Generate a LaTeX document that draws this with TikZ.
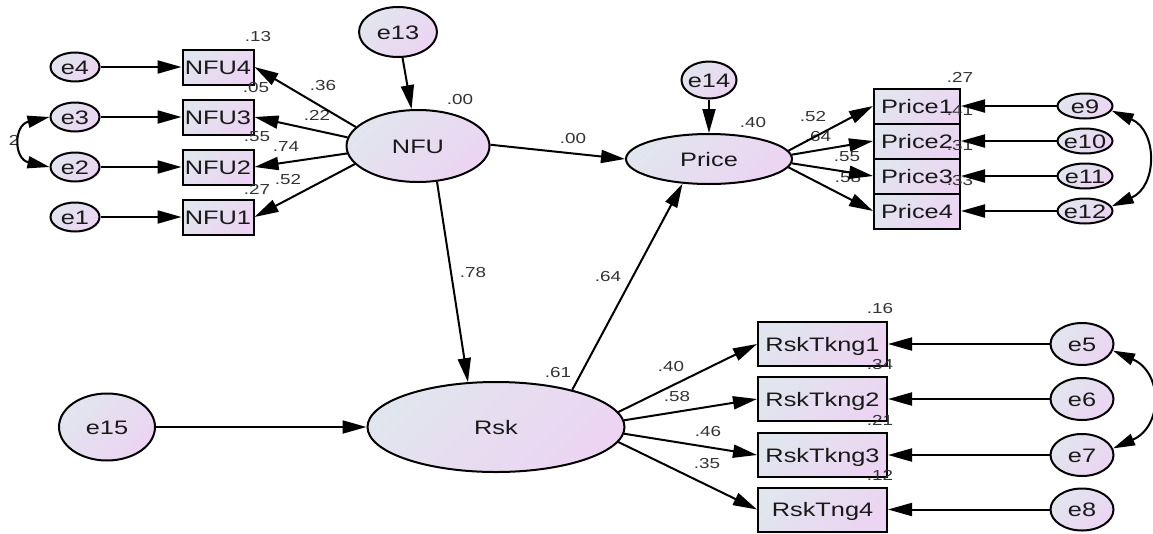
\documentclass[tikz,border=0pt]{standalone}
\usepackage{fontspec}
\newfontfamily\labfont[FakeStretch=1.3]{Liberation Sans}
\usetikzlibrary{shapes.geometric,arrows.meta}
\definecolor{gA}{HTML}{E1E5EE}
\definecolor{gB}{HTML}{ECD4F2}
\definecolor{numc}{HTML}{333333}
\newcommand{\zb}[1]{\makebox[0pt]{#1}}
\begin{document}
\begin{tikzpicture}[x=1pt,y=-1pt,
  base/.style={draw=black, line width=2pt, top color=gA, bottom color=gB, shading angle=45,
    inner sep=0pt, font=\labfont\fontsize{19.5}{20}\selectfont, text=black!90,
    text height=14pt, text depth=0pt},
  nbox/.style={base, rectangle, minimum width=71pt, minimum height=35pt},
  pbox/.style={base, rectangle, minimum width=86pt, minimum height=35pt},
  rbox/.style={base, rectangle, minimum width=129pt, minimum height=44pt},
  lat/.style={base, ellipse},
  esm/.style={base, ellipse, minimum width=49pt, minimum height=29pt},
  epr/.style={base, ellipse, minimum width=55pt, minimum height=25pt},
  erk/.style={base, ellipse, minimum width=63pt, minimum height=42pt},
  num/.style={inner sep=0pt, font=\labfont\fontsize{14.5}{15}\selectfont, text=numc},
  arr/.style={line width=2pt, -{Triangle[length=24pt,width=13pt]}},
  cov/.style={line width=2pt, {Triangle[length=22pt,width=12pt]}-{Triangle[length=22pt,width=12pt]}}
]
\useasboundingbox (0,0) rectangle (1153,533);

% ---- nodes ----
\node[esm] (e4) at (75,67) {\zb{e4}};
\node[esm] (e3) at (75,117) {\zb{e3}};
\node[esm] (e2) at (75,167) {\zb{e2}};
\node[esm] (e1) at (75,217) {\zb{e1}};
\node[nbox] (NFU4) at (218,67) {NFU4};
\node[nbox] (NFU3) at (218,117) {NFU3};
\node[nbox] (NFU2) at (218,167) {NFU2};
\node[nbox] (NFU1) at (218,217) {NFU1};
\node[lat, minimum width=78pt, minimum height=50pt] (e13) at (398,32) {\zb{e13}};
\node[lat, minimum width=143pt, minimum height=72pt] (NFU) at (418,146) {\zb{NFU}};
\node[lat, minimum width=55pt, minimum height=37pt] (e14) at (709,80) {\zb{e14}};
\node[lat, minimum width=166pt, minimum height=50pt] (Price) at (709,159) {\zb{Price}};
\node[pbox] (Price1) at (917,106) {Price1};
\node[pbox] (Price2) at (917,141) {Price2};
\node[pbox] (Price3) at (917,176) {Price3};
\node[pbox] (Price4) at (917,211) {Price4};
\node[epr] (e9) at (1085,106) {\zb{e9}};
\node[epr] (e10) at (1085,141) {\zb{e10}};
\node[epr] (e11) at (1085,176) {\zb{e11}};
\node[epr] (e12) at (1085,211) {\zb{e12}};
\node[lat, minimum width=96pt, minimum height=67pt] (e15) at (107,427) {\zb{e15}};
\node[lat, minimum width=257pt, minimum height=90pt] (Rsk) at (496,427) {\zb{Rsk}};
\node[rbox] (RskTkng1) at (822.5,344) {RskTkng1};
\node[rbox] (RskTkng2) at (822.5,399) {RskTkng2};
\node[rbox] (RskTkng3) at (822.5,455) {RskTkng3};
\node[rbox] (RskTng4) at (822.5,509.5) {RskTng4};
\node[erk] (e5) at (1082,344) {\zb{e5}};
\node[erk] (e6) at (1082,399) {\zb{e6}};
\node[erk] (e7) at (1082,455) {\zb{e7}};
\node[erk] (e8) at (1082,509.5) {\zb{e8}};

% ---- number labels ----
\node[num] (r13) at (258,37) {.13};
\node[num] (r05) at (256,88) {.05};
\node[num] (r55) at (257,137) {.55};
\node[num] (r27) at (257,189) {.27};
\node[num] (rnfu) at (460,100) {.00};
\node[num] (rpri) at (753,123) {.40};
\node[num] (rrsk) at (558,373) {.61};
\node[num] (rp1) at (960,77) {.27};
\node[num] (rp2) at (960,111) {.41};
\node[num] (rp3) at (960,146) {.31};
\node[num] (rp4) at (960,181) {.33};
\node[num] (rr1) at (880,309) {.16};
\node[num] (rr2) at (880,365) {.34};
\node[num] (rr3) at (880,420) {.21};
\node[num] (rr4) at (880,475) {.12};
\node[num] (w36) at (323,86) {.36};
\node[num] (w22) at (317,115) {.22};
\node[num] (w74) at (286,147) {.74};
\node[num] (w52) at (288,180) {.52};
\node[num] (w00) at (573,139) {.00};
\node[num] (w78) at (473,273) {.78};
\node[num] (w64) at (608,277) {.64};
\node[num] (wp1) at (813,117) {.52};
\node[num] (wp2) at (818,137) {.64};
\node[num] (wp3) at (847,157) {.55};
\node[num] (wp4) at (848,178) {.58};
\node[num] (wr1) at (671,367) {.40};
\node[num] (wr2) at (677,397) {.58};
\node[num] (wr3) at (708,432) {.46};
\node[num] (wr4) at (707,464) {.35};
\node[num] (c23) at (14,140) {2};

% ---- connectors ----
\draw[arr] (e4) -- (NFU4);
\draw[arr] (e3) -- (NFU3);
\draw[arr] (e2) -- (NFU2);
\draw[arr] (e1) -- (NFU1);
\draw[arr] (NFU.163) -- (NFU4.east);
\draw[arr] (NFU.173) -- (NFU3.east);
\draw[arr] (NFU.186) -- (NFU2.east);
\draw[arr] (NFU.196) -- (NFU1.east);
\draw[arr] (e13) -- (NFU);
\draw[arr] (NFU.1) -- (Price.west);
\draw[arr] (NFU.-62) -- (Rsk.122);
\draw[arr] (Rsk.26) -- (Price.-137);
\draw[arr] (e14) -- (Price);
\draw[arr] (e15) -- (Rsk);
\draw[arr] (Price.6) -- (Price1.west);
\draw[arr] (Price.3) -- (Price2.west);
\draw[arr] (Price.-3) -- (Price3.west);
\draw[arr] (Price.-6) -- (Price4.west);
\draw[arr] (e9) -- (Price1);
\draw[arr] (e10) -- (Price2);
\draw[arr] (e11) -- (Price3);
\draw[arr] (e12) -- (Price4);
\draw[arr] (Rsk.7) -- (RskTkng1.west);
\draw[arr] (Rsk.3) -- (RskTkng2.west);
\draw[arr] (Rsk.-3) -- (RskTkng3.west);
\draw[arr] (Rsk.-7) -- (RskTng4.west);
\draw[arr] (e5) -- (RskTkng1);
\draw[arr] (e6) -- (RskTkng2);
\draw[arr] (e7) -- (RskTkng3);
\draw[arr] (e8) -- (RskTng4);
\draw[cov] (e3.west) .. controls +(-36,8) and +(-36,-8) .. (e2.west);
\draw[cov] (e9.-10) .. controls +(46,20) and +(46,-20) .. (e12.10);
\draw[cov] (e5.-12) .. controls +(50,22) and +(50,-22) .. (e7.12);
\end{tikzpicture}
\end{document}
